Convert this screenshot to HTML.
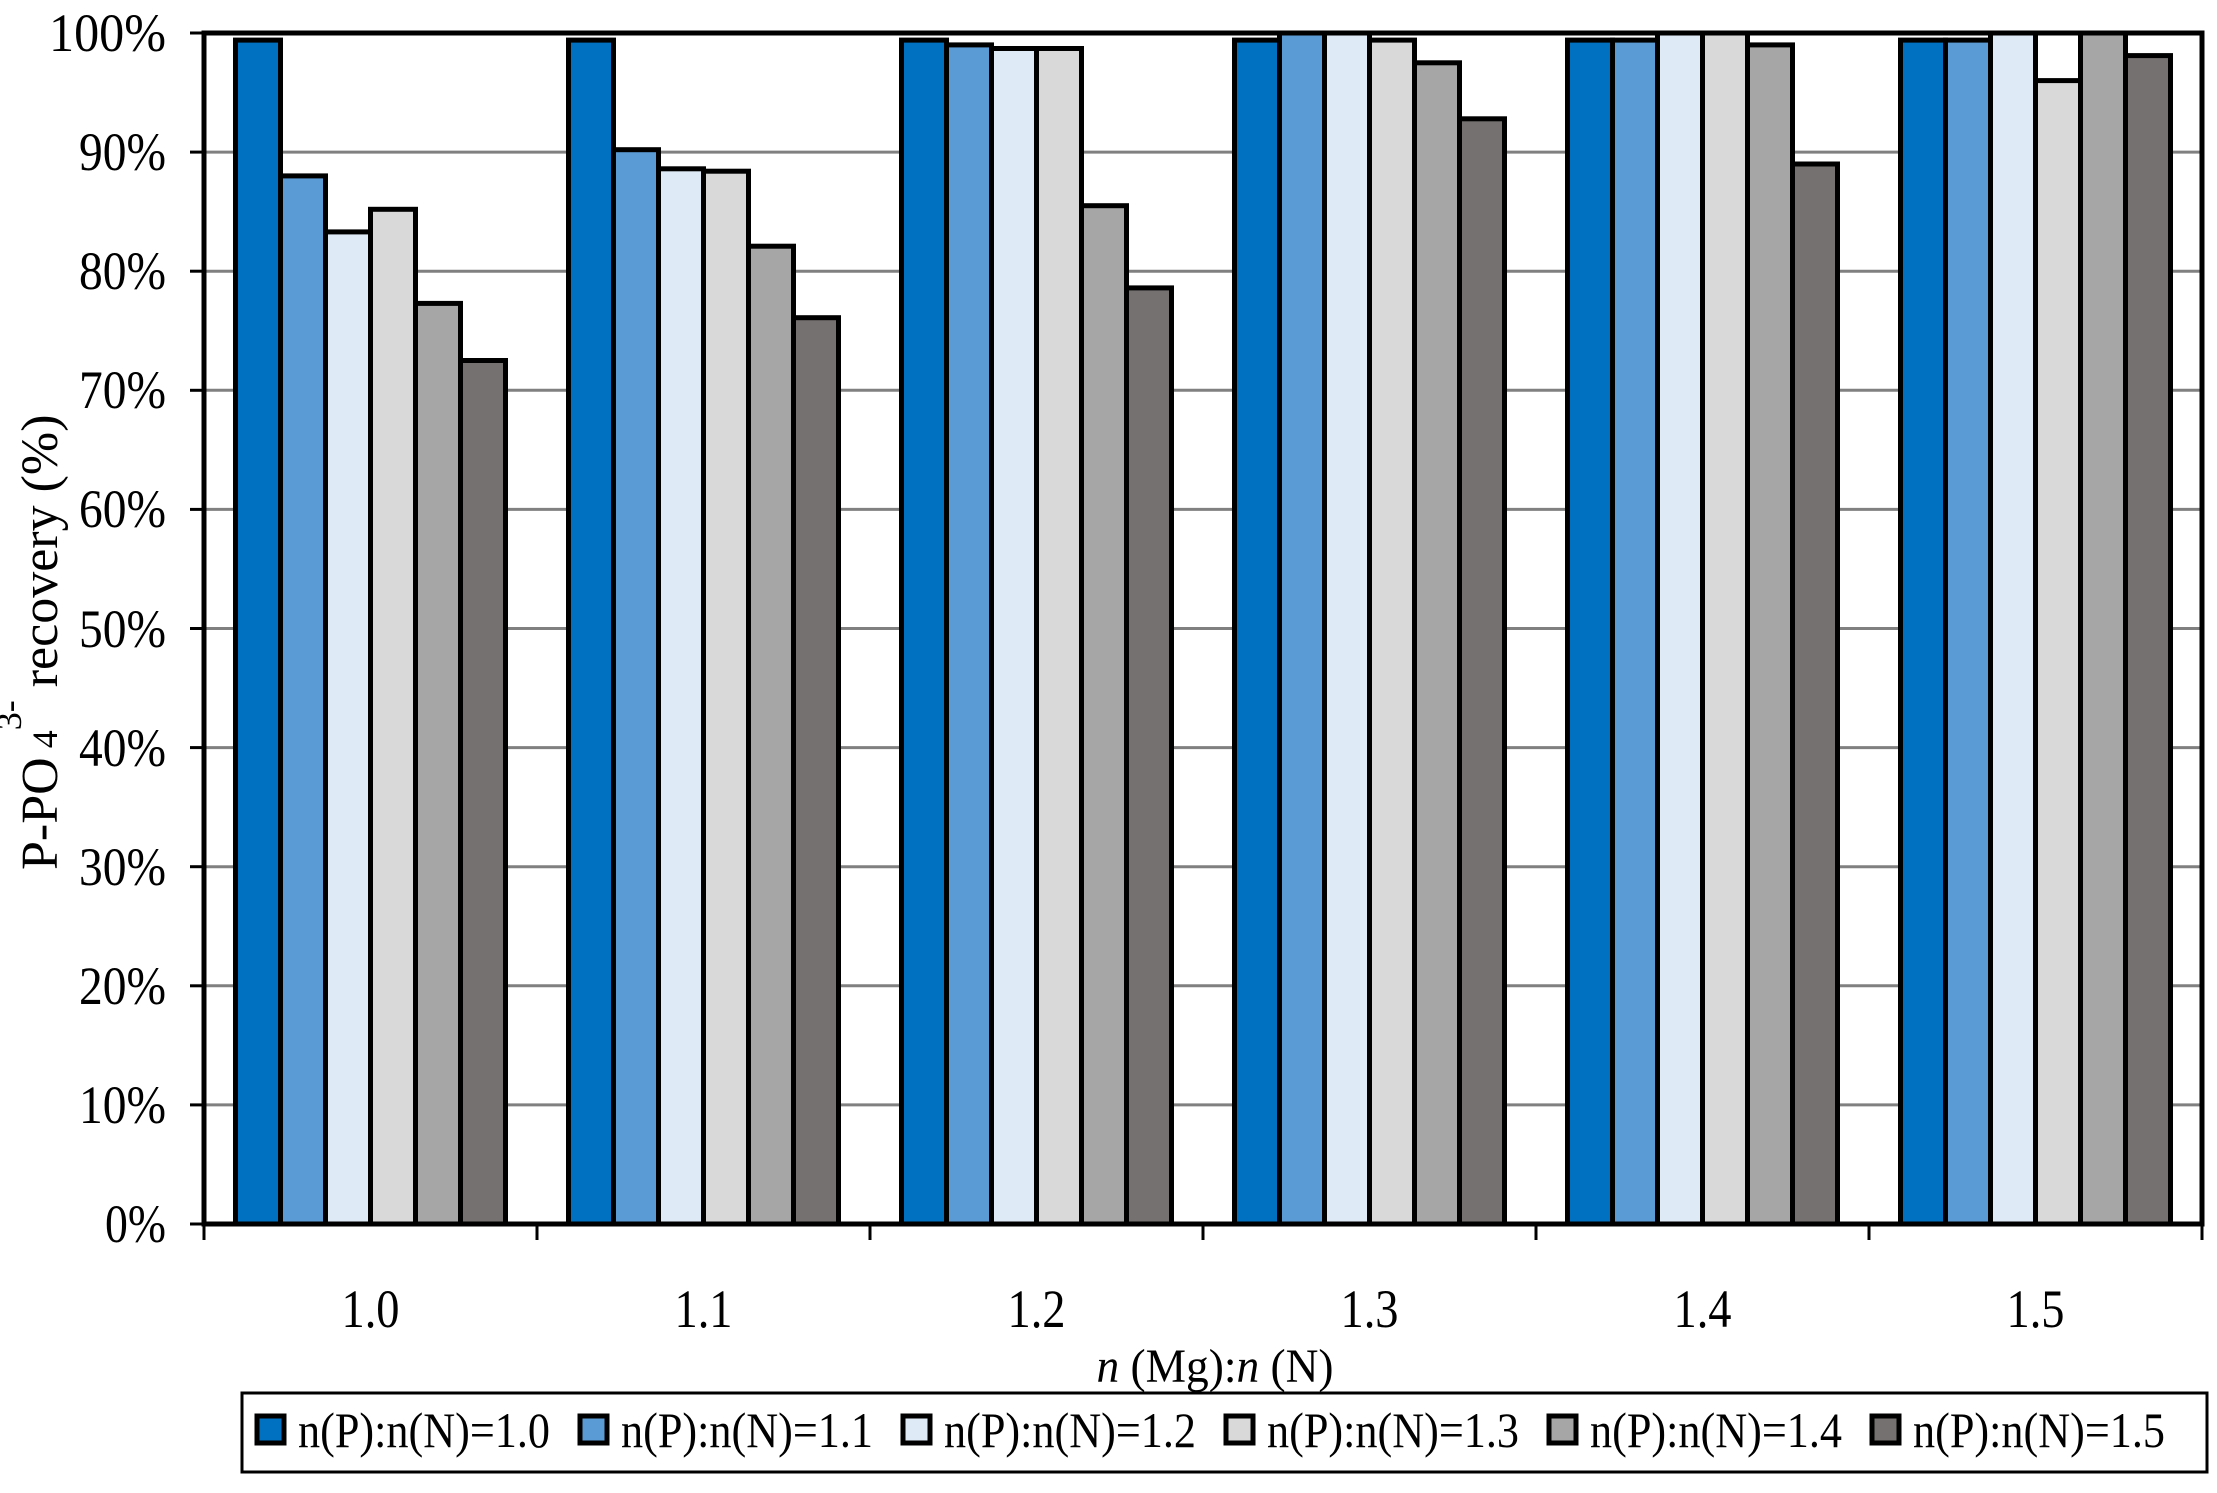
<!DOCTYPE html>
<html><head><meta charset="utf-8"><style>html,body{margin:0;padding:0;background:#fff}svg{display:block}</style></head>
<body>
<svg width="2217" height="1493" viewBox="0 0 2217 1493" xmlns="http://www.w3.org/2000/svg" font-family="Liberation Serif, serif">
<rect width="2217" height="1493" fill="#fff"/>
<g stroke="#808080" stroke-width="3">
<line x1="204" x2="2202" y1="152.1" y2="152.1"/>
<line x1="204" x2="2202" y1="271.2" y2="271.2"/>
<line x1="204" x2="2202" y1="390.3" y2="390.3"/>
<line x1="204" x2="2202" y1="509.4" y2="509.4"/>
<line x1="204" x2="2202" y1="628.5" y2="628.5"/>
<line x1="204" x2="2202" y1="747.6" y2="747.6"/>
<line x1="204" x2="2202" y1="866.7" y2="866.7"/>
<line x1="204" x2="2202" y1="985.8" y2="985.8"/>
<line x1="204" x2="2202" y1="1104.9" y2="1104.9"/>
</g>
<g stroke="#000" stroke-width="5">
<rect x="235.5" y="40.1" width="45" height="1183.9" fill="#0070C0"/>
<rect x="280.5" y="175.9" width="45" height="1048.1" fill="#5B9BD5"/>
<rect x="325.5" y="231.9" width="45" height="992.1" fill="#DEEAF6"/>
<rect x="370.5" y="209.3" width="45" height="1014.7" fill="#D9D9D9"/>
<rect x="415.5" y="303.4" width="45" height="920.6" fill="#A6A6A6"/>
<rect x="460.5" y="360.5" width="45" height="863.5" fill="#767171"/>

<rect x="568.5" y="40.1" width="45" height="1183.9" fill="#0070C0"/>
<rect x="613.5" y="149.7" width="45" height="1074.3" fill="#5B9BD5"/>
<rect x="658.5" y="168.8" width="45" height="1055.2" fill="#DEEAF6"/>
<rect x="703.5" y="171.2" width="45" height="1052.8" fill="#D9D9D9"/>
<rect x="748.5" y="246.2" width="45" height="977.8" fill="#A6A6A6"/>
<rect x="793.5" y="317.7" width="45" height="906.3" fill="#767171"/>

<rect x="901.5" y="40.1" width="45" height="1183.9" fill="#0070C0"/>
<rect x="946.5" y="44.9" width="45" height="1179.1" fill="#5B9BD5"/>
<rect x="991.5" y="48.5" width="45" height="1175.5" fill="#DEEAF6"/>
<rect x="1036.5" y="48.5" width="45" height="1175.5" fill="#D9D9D9"/>
<rect x="1081.5" y="205.7" width="45" height="1018.3" fill="#A6A6A6"/>
<rect x="1126.5" y="287.9" width="45" height="936.1" fill="#767171"/>

<rect x="1234.5" y="40.1" width="45" height="1183.9" fill="#0070C0"/>
<rect x="1279.5" y="33" width="45" height="1191" fill="#5B9BD5"/>
<rect x="1324.5" y="33" width="45" height="1191" fill="#DEEAF6"/>
<rect x="1369.5" y="40.1" width="45" height="1183.9" fill="#D9D9D9"/>
<rect x="1414.5" y="62.8" width="45" height="1161.2" fill="#A6A6A6"/>
<rect x="1459.5" y="118.8" width="45" height="1105.2" fill="#767171"/>

<rect x="1567.5" y="40.1" width="45" height="1183.9" fill="#0070C0"/>
<rect x="1612.5" y="40.1" width="45" height="1183.9" fill="#5B9BD5"/>
<rect x="1657.5" y="33" width="45" height="1191" fill="#DEEAF6"/>
<rect x="1702.5" y="33" width="45" height="1191" fill="#D9D9D9"/>
<rect x="1747.5" y="44.9" width="45" height="1179.1" fill="#A6A6A6"/>
<rect x="1792.5" y="164.0" width="45" height="1060" fill="#767171"/>

<rect x="1900.5" y="40.1" width="45" height="1183.9" fill="#0070C0"/>
<rect x="1945.5" y="40.1" width="45" height="1183.9" fill="#5B9BD5"/>
<rect x="1990.5" y="33" width="45" height="1191" fill="#DEEAF6"/>
<rect x="2035.5" y="80.6" width="45" height="1143.4" fill="#D9D9D9"/>
<rect x="2080.5" y="33" width="45" height="1191" fill="#A6A6A6"/>
<rect x="2125.5" y="55.6" width="45" height="1168.4" fill="#767171"/>
</g>
<rect x="204" y="33" width="1998" height="1191" fill="none" stroke="#000" stroke-width="5"/>
<g stroke="#000" stroke-width="3">
<line x1="190" x2="204" y1="33" y2="33"/><line x1="190" x2="204" y1="152.1" y2="152.1"/><line x1="190" x2="204" y1="271.2" y2="271.2"/><line x1="190" x2="204" y1="390.3" y2="390.3"/><line x1="190" x2="204" y1="509.4" y2="509.4"/><line x1="190" x2="204" y1="628.5" y2="628.5"/><line x1="190" x2="204" y1="747.6" y2="747.6"/><line x1="190" x2="204" y1="866.7" y2="866.7"/><line x1="190" x2="204" y1="985.8" y2="985.8"/><line x1="190" x2="204" y1="1104.9" y2="1104.9"/><line x1="190" x2="204" y1="1224" y2="1224"/>
<line x1="204" x2="204" y1="1224" y2="1240"/><line x1="537" x2="537" y1="1224" y2="1240"/><line x1="870" x2="870" y1="1224" y2="1240"/><line x1="1203" x2="1203" y1="1224" y2="1240"/><line x1="1536" x2="1536" y1="1224" y2="1240"/><line x1="1869" x2="1869" y1="1224" y2="1240"/><line x1="2202" x2="2202" y1="1224" y2="1240"/>
</g>
<g font-size="54" text-anchor="end" fill="#000" lengthAdjust="spacingAndGlyphs">
<text x="166" y="51" textLength="117" lengthAdjust="spacingAndGlyphs">100%</text>
<text x="166" y="170" textLength="87" lengthAdjust="spacingAndGlyphs">90%</text>
<text x="166" y="289" textLength="87" lengthAdjust="spacingAndGlyphs">80%</text>
<text x="166" y="408" textLength="87" lengthAdjust="spacingAndGlyphs">70%</text>
<text x="166" y="527" textLength="87" lengthAdjust="spacingAndGlyphs">60%</text>
<text x="166" y="647" textLength="87" lengthAdjust="spacingAndGlyphs">50%</text>
<text x="166" y="766" textLength="87" lengthAdjust="spacingAndGlyphs">40%</text>
<text x="166" y="885" textLength="87" lengthAdjust="spacingAndGlyphs">30%</text>
<text x="166" y="1004" textLength="87" lengthAdjust="spacingAndGlyphs">20%</text>
<text x="166" y="1123" textLength="87" lengthAdjust="spacingAndGlyphs">10%</text>
<text x="166" y="1242" textLength="61" lengthAdjust="spacingAndGlyphs">0%</text>
</g>
<g font-size="54" text-anchor="middle" fill="#000">
<text x="370.5" y="1327" textLength="58" lengthAdjust="spacingAndGlyphs">1.0</text>
<text x="703.5" y="1327" textLength="58" lengthAdjust="spacingAndGlyphs">1.1</text>
<text x="1036.5" y="1327" textLength="58" lengthAdjust="spacingAndGlyphs">1.2</text>
<text x="1369.5" y="1327" textLength="58" lengthAdjust="spacingAndGlyphs">1.3</text>
<text x="1702.5" y="1327" textLength="58" lengthAdjust="spacingAndGlyphs">1.4</text>
<text x="2035.5" y="1327" textLength="58" lengthAdjust="spacingAndGlyphs">1.5</text>
<text x="1215" y="1382" font-size="48" textLength="237" lengthAdjust="spacingAndGlyphs"><tspan font-style="italic">n</tspan> (Mg):<tspan font-style="italic">n</tspan> (N)</text>
</g>
<text transform="translate(57,870) rotate(-90)" font-size="52" fill="#000">P-PO<tspan font-size="36"> 4</tspan><tspan font-size="36" dy="-36">3-</tspan><tspan dy="36"> recovery (%)</tspan></text>
<rect x="242" y="1393" width="1965" height="79" fill="#fff" stroke="#000" stroke-width="3"/>
<g stroke="#000" stroke-width="5">
<rect x="257" y="1416" width="27" height="27" fill="#0070C0"/>
<rect x="580" y="1416" width="27" height="27" fill="#5B9BD5"/>
<rect x="903" y="1416" width="27" height="27" fill="#DEEAF6"/>
<rect x="1226" y="1416" width="27" height="27" fill="#D9D9D9"/>
<rect x="1549" y="1416" width="27" height="27" fill="#A6A6A6"/>
<rect x="1872" y="1416" width="27" height="27" fill="#767171"/>
</g>
<g font-size="50" fill="#000">
<text x="298" y="1447" textLength="252" lengthAdjust="spacingAndGlyphs">n(P):n(N)=1.0</text>
<text x="621" y="1447" textLength="252" lengthAdjust="spacingAndGlyphs">n(P):n(N)=1.1</text>
<text x="944" y="1447" textLength="252" lengthAdjust="spacingAndGlyphs">n(P):n(N)=1.2</text>
<text x="1267" y="1447" textLength="252" lengthAdjust="spacingAndGlyphs">n(P):n(N)=1.3</text>
<text x="1590" y="1447" textLength="252" lengthAdjust="spacingAndGlyphs">n(P):n(N)=1.4</text>
<text x="1913" y="1447" textLength="252" lengthAdjust="spacingAndGlyphs">n(P):n(N)=1.5</text>
</g>
</svg>
</body></html>
